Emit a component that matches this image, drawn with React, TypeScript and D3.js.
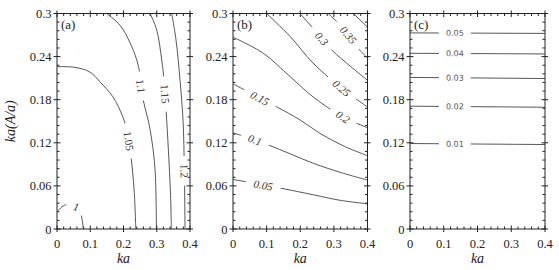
import React from "react";
import * as d3 from "d3";

const W = 559;
const H = 270;

const kaTicks = [0, 0.1, 0.2, 0.3, 0.4];
const kaTickLabels = ["0", "0.1", "0.2", "0.3", "0.4"];
const yTicks = [0, 0.06, 0.12, 0.18, 0.24, 0.3];
const yTickLabels = ["0", "0.06", "0.12", "0.18", "0.24", "0.3"];
const panelTags = ["(a)", "(b)", "(c)"];

// Panel (a) contour lines, [ka, ka(A/a)]
const levelLabelsA = ["1", "1.05", "1.1", "1.15", "1.2"];
const lineA100 = [[0.003, 0.025], [0.015, 0.031], [0.03, 0.034], [0.045, 0.034], [0.06, 0.031], [0.072, 0.021], [0.079, 0]];
const lineA105 = [[0, 0.226], [0.054, 0.225], [0.099, 0.2185], [0.129, 0.205], [0.168, 0.184], [0.198, 0.156], [0.213, 0.131], [0.223, 0.099], [0.232, 0.054], [0.237, 0]];
const lineA110 = [[0.149, 0.3], [0.189, 0.284], [0.22, 0.259], [0.24, 0.235], [0.25, 0.214], [0.259, 0.18], [0.274, 0.152], [0.285, 0.124], [0.295, 0.082], [0.299, 0]];
const lineA115 = [[0.28, 0.3], [0.3, 0.277], [0.315, 0.235], [0.322, 0.207], [0.328, 0.166], [0.335, 0.11], [0.341, 0.054], [0.344, 0]];
const lineA120 = [[0.345, 0.3], [0.358, 0.263], [0.37, 0.207], [0.379, 0.152], [0.383, 0.082], [0.385, 0]];
const labelPosA = [[0.058, 0.031], [0.216, 0.1225], [0.252, 0.199], [0.325, 0.188], [0.383, 0.081]];

// Panel (b)
const levelLabelsB = ["0.05", "0.1", "0.15", "0.2", "0.25", "0.3", "0.35", ""];
const lineB005 = [[0, 0.069], [0.14, 0.057], [0.24, 0.0475], [0.318, 0.04], [0.4, 0.035]];
const lineB010 = [[0, 0.134], [0.105, 0.117], [0.239, 0.0915], [0.318, 0.079], [0.4, 0.068]];
const lineB015 = [[0, 0.202], [0.13, 0.17], [0.199, 0.152], [0.259, 0.133], [0.327, 0.116], [0.4, 0.102]];
const lineB020 = [[0, 0.267], [0.089, 0.245], [0.17, 0.212], [0.238, 0.184], [0.327, 0.156], [0.4, 0.141]];
const lineB025 = [[0.1, 0.3], [0.17, 0.268], [0.238, 0.231], [0.323, 0.196], [0.4, 0.17]];
const lineB030 = [[0.199, 0.3], [0.239, 0.279], [0.294, 0.249], [0.348, 0.227], [0.4, 0.207]];
const lineB035 = [[0.283, 0.3], [0.308, 0.289], [0.343, 0.27], [0.377, 0.249], [0.4, 0.238]];
const lineB040 = [[0.358, 0.3], [0.4, 0.281]];
const labelPosB = [[0.09, 0.061], [0.0654, 0.124], [0.08, 0.182], [0.327, 0.156], [0.323, 0.196], [0.264, 0.265], [0.343, 0.27], null];

// Panel (c)
const levelLabelsC = ["0.01", "0.02", "0.03", "0.04", "0.05"];
const lineC001 = [[0, 0.119], [0.4, 0.1176]];
const lineC002 = [[0, 0.171], [0.4, 0.1695]];
const lineC003 = [[0, 0.211], [0.4, 0.2095]];
const lineC004 = [[0, 0.2446], [0.4, 0.2437]];
const lineC005 = [[0, 0.273], [0.4, 0.2723]];
const labelPosC = [[0.133, 0.1183], [0.133, 0.1705], [0.133, 0.2105], [0.133, 0.2443], [0.133, 0.2728]];

const SERIF = "'Liberation Serif', 'DejaVu Serif', 'Liberation Sans', Arial, sans-serif";
const SANS = "'DejaVu Sans', 'Noto Sans', sans-serif";

const panelDefs = [
  { x0: 57, x1: 190, labels: levelLabelsA, lines: [lineA100, lineA105, lineA110, lineA115, lineA120], pos: labelPosA, sans: false, fs: 11, italic: false, color: "#333" },
  { x0: 233, x1: 367.5, labels: levelLabelsB, lines: [lineB005, lineB010, lineB015, lineB020, lineB025, lineB030, lineB035, lineB040], pos: labelPosB, sans: false, fs: 11, italic: true, color: "#333" },
  { x0: 410, x1: 545, labels: levelLabelsC, lines: [lineC001, lineC002, lineC003, lineC004, lineC005], pos: labelPosC, sans: true, fs: 8, italic: false, color: "#555" },
];

const Y_TOP = 13.5;
const Y_BOT = 229;
const AXIS = "#222";
const LINE = "#444";

function textWidth(s: string, fs: number, sans: boolean) {
  let w = 0;
  for (const c of s) w += c === "." ? (sans ? 0.32 : 0.28) : (sans ? 0.636 : 0.556);
  return w * fs;
}

function Panel({ def, idx }: { def: any; idx: number }) {
  const x = d3.scaleLinear().domain([0, 0.4]).range([def.x0, def.x1]);
  const y = d3.scaleLinear().domain([0, 0.3]).range([Y_BOT, Y_TOP]);
  const line = d3.line<number[]>().x((d) => x(d[0])).y((d) => y(d[1])).curve(d3.curveCatmullRom.alpha(0.5));

  const xMinor = d3.range(0, 0.4001, 0.02).filter((v) => Math.abs(v * 10 - Math.round(v * 10)) > 1e-6);
  const yMinor = d3.range(0, 0.3001, 0.012).filter((v) => Math.abs(v / 0.06 - Math.round(v / 0.06)) > 1e-6);

  const sans = def.sans;
  const labelInfo = def.lines.map((pts: number[][], i: number) => {
    const p = def.pos[i];
    if (!p || !def.labels[i]) return null;
    const px = x(p[0]);
    const py = y(p[1]);
    let best = Infinity;
    let ang = 0;
    for (let k = 0; k < pts.length - 1; k++) {
      const ax = x(pts[k][0]), ay = y(pts[k][1]);
      const bx = x(pts[k + 1][0]), by = y(pts[k + 1][1]);
      const dx = bx - ax, dy = by - ay;
      const t = Math.max(0, Math.min(1, ((px - ax) * dx + (py - ay) * dy) / (dx * dx + dy * dy)));
      const qx = ax + t * dx, qy = ay + t * dy;
      const dd = (qx - px) ** 2 + (qy - py) ** 2;
      if (dd < best) {
        best = dd;
        ang = (Math.atan2(dy, dx) * 180) / Math.PI;
      }
    }
    if (ang > 90) ang -= 180;
    if (ang < -90) ang += 180;
    const tw = textWidth(def.labels[i], def.fs, sans);
    return { px, py, ang, tw };
  });

  return (
    <g>
      <defs>
        {labelInfo.map((li: any, i: number) =>
          li ? (
            <mask id={`m${idx}_${i}`} key={i} maskUnits="userSpaceOnUse" x={0} y={0} width={W} height={H}>
              <rect x={0} y={0} width={W} height={H} fill="white" />
              <rect
                x={-(li.tw + 14) / 2}
                y={-6}
                width={li.tw + 14}
                height={12}
                fill="black"
                transform={`translate(${li.px},${li.py}) rotate(${li.ang})`}
              />
            </mask>
          ) : null
        )}
        <clipPath id={`clip${idx}`}>
          <rect x={def.x0} y={Y_TOP} width={def.x1 - def.x0} height={Y_BOT - Y_TOP} />
        </clipPath>
      </defs>
      <g clipPath={`url(#clip${idx})`}>
        {def.lines.map((pts: number[][], i: number) => (
          <path
            key={i}
            d={line(pts) || ""}
            fill="none"
            stroke={LINE}
            strokeWidth={0.9}
            mask={labelInfo[i] ? `url(#m${idx}_${i})` : undefined}
          />
        ))}
      </g>
      {labelInfo.map((li: any, i: number) =>
        li ? (
          <text
            key={i}
            transform={`translate(${li.px},${li.py}) rotate(${li.ang})`}
            textAnchor="middle"
            dy="0.35em"
            style={{ fontFamily: sans ? SANS : SERIF, fontStyle: def.italic ? "italic" : "normal", fontSize: def.fs }}
            fill={def.color}
          >
            {def.labels[i]}
          </text>
        ) : null
      )}
      <rect x={def.x0} y={Y_TOP} width={def.x1 - def.x0} height={Y_BOT - Y_TOP} fill="none" stroke={AXIS} strokeWidth={1} />
      {kaTicks.map((v, i) => (
        <g key={"xt" + i}>
          <line x1={x(v)} x2={x(v)} y1={Y_BOT + 3} y2={Y_BOT - 3.5} stroke={AXIS} />
          <line x1={x(v)} x2={x(v)} y1={Y_TOP - 3} y2={Y_TOP + 3.5} stroke={AXIS} />
          <text x={x(v)} y={Y_BOT + 19} textAnchor="middle" style={{ fontFamily: SERIF, fontSize: 12.5 }} fill="#222">
            {kaTickLabels[i]}
          </text>
        </g>
      ))}
      {xMinor.map((v, i) => (
        <g key={"xm" + i}>
          <line x1={x(v)} x2={x(v)} y1={Y_BOT} y2={Y_BOT - 2.5} stroke={AXIS} />
          <line x1={x(v)} x2={x(v)} y1={Y_TOP} y2={Y_TOP + 2.5} stroke={AXIS} />
        </g>
      ))}
      {yTicks.map((v, i) => (
        <g key={"yt" + i}>
          <line x1={def.x0 - 3.5} x2={def.x0 + 3.5} y1={y(v)} y2={y(v)} stroke={AXIS} />
          <line x1={def.x1 - 3.5} x2={def.x1 + 3} y1={y(v)} y2={y(v)} stroke={AXIS} />
          <text x={def.x0 - 5.5} y={y(v)} dy="0.36em" textAnchor="end" style={{ fontFamily: SERIF, fontSize: 12.5 }} fill="#222">
            {yTickLabels[i]}
          </text>
        </g>
      ))}
      {yMinor.map((v, i) => (
        <g key={"ym" + i}>
          <line x1={def.x0} x2={def.x0 + 2.5} y1={y(v)} y2={y(v)} stroke={AXIS} />
          <line x1={def.x1} x2={def.x1 - 2.5} y1={y(v)} y2={y(v)} stroke={AXIS} />
        </g>
      ))}
      <text x={def.x0 + 4} y={Y_TOP + 15} style={{ fontFamily: SERIF, fontSize: 13 }} fill="#222">
        {panelTags[idx]}
      </text>
      <text x={(def.x0 + def.x1) / 2} y={263} textAnchor="middle" style={{ fontFamily: SERIF, fontStyle: "italic", fontSize: 14 }} fill="#222">
        ka
      </text>
    </g>
  );
}

export default function App() {
  return (
    <svg width={W} height={H} style={{ position: "absolute", left: 0, top: 0, background: "white" }}>
      <rect x={0} y={0} width={W} height={H} fill="white" />
      {panelDefs.map((d, i) => (
        <Panel key={i} def={d} idx={i} />
      ))}
      <text
        transform={`translate(15,${(Y_TOP + Y_BOT) / 2}) rotate(-90)`}
        textAnchor="middle"
        style={{ fontFamily: SERIF, fontStyle: "italic", fontSize: 14 }}
        fill="#222"
      >
        ka(A/a)
      </text>
    </svg>
  );
}
